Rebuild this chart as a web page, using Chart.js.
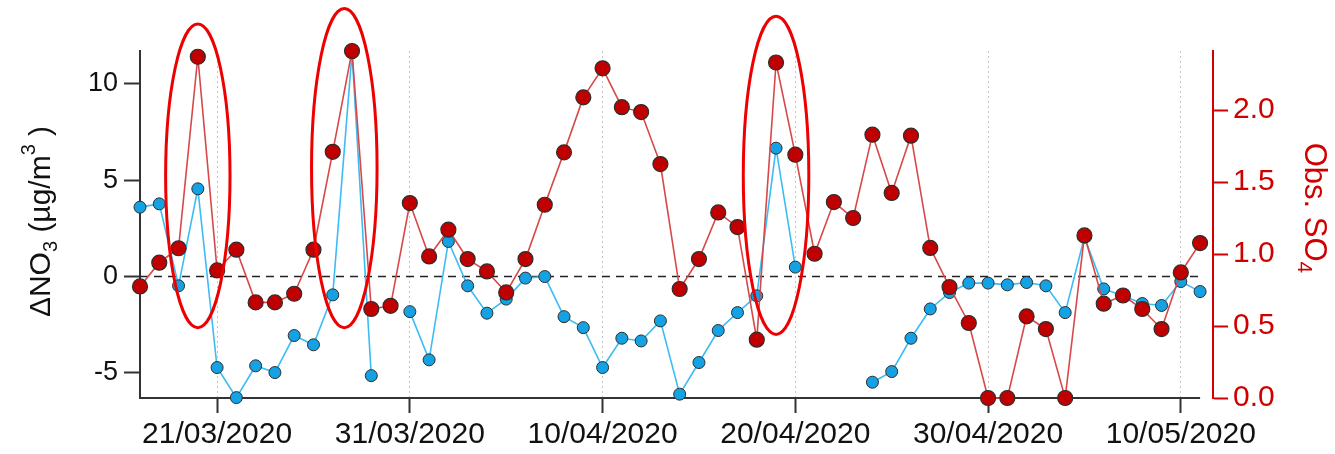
<!DOCTYPE html>
<html>
<head>
<meta charset="utf-8">
<script src="https://cdn.jsdelivr.net/npm/chart.js@4.4.1/dist/chart.umd.min.js"></script>
<style>
  html, body { margin: 0; padding: 0; background: #fff; }
  #chart { display: block; }
</style>
</head>
<body>
<canvas id="chart" width="1335" height="454"></canvas>
<script>
// ====== DATA ======
const dates = [
  "17/03/2020", "18/03/2020", "19/03/2020", "20/03/2020", "21/03/2020", "22/03/2020", "23/03/2020",
  "24/03/2020", "25/03/2020", "26/03/2020", "27/03/2020", "28/03/2020", "29/03/2020", "30/03/2020",
  "31/03/2020", "01/04/2020", "02/04/2020", "03/04/2020", "04/04/2020", "05/04/2020", "06/04/2020",
  "07/04/2020", "08/04/2020", "09/04/2020", "10/04/2020", "11/04/2020", "12/04/2020", "13/04/2020",
  "14/04/2020", "15/04/2020", "16/04/2020", "17/04/2020", "18/04/2020", "19/04/2020", "20/04/2020",
  "21/04/2020", "22/04/2020", "23/04/2020", "24/04/2020", "25/04/2020", "26/04/2020", "27/04/2020",
  "28/04/2020", "29/04/2020", "30/04/2020", "01/05/2020", "02/05/2020", "03/05/2020", "04/05/2020",
  "05/05/2020", "06/05/2020", "07/05/2020", "08/05/2020", "09/05/2020", "10/05/2020", "11/05/2020"
];

// ΔNO3 (µg/m3), left axis
const deltaNO3 = [
  3.6, 3.77, -0.48, 4.55, -4.72, -6.28, -4.63,
  -4.98, -3.06, -3.54, -0.95, 11.6, -5.14, null,
  -1.82, -4.32, 1.82, -0.48, -1.9, -1.17, -0.08,
  0.0, -2.08, -2.65, -4.72, -3.2, -3.34, -2.3,
  -6.1, -4.46, -2.8, -1.87, -1.0, 6.66, 0.49,
  null, null, null, -5.48, -4.93, -3.2, -1.68,
  -0.83, -0.34, -0.34, -0.43, -0.31, -0.48, -1.87,
  2.04, -0.64, -1.0, -1.4, -1.5, -0.26, -0.78
];

// Obs. SO4, right axis
const obsSO4 = [
  0.775, 0.94, 1.04, 2.37, 0.886, 1.03, 0.664,
  0.664, 0.724, 1.03, 1.71, 2.41, 0.618, 0.64,
  1.354, 0.983, 1.169, 0.965, 0.879, 0.733, 0.965,
  1.342, 1.706, 2.088, 2.29, 2.02, 1.986, 1.625,
  0.757, 0.965, 1.289, 1.187, 0.405, 2.33, 1.69,
  1.002, 1.361, 1.25, 1.829, 1.424, 1.822, 1.042,
  0.771, 0.521, 0.0, 0.0, 0.567, 0.479, 0.0,
  1.129, 0.655, 0.712, 0.618, 0.479, 0.872, 1.076
];

const tickDates = ["21/03/2020", "31/03/2020", "10/04/2020", "20/04/2020", "30/04/2020", "10/05/2020"];
const leftTicks = [-5, 0, 5, 10];
const rightTicks = [0, 0.5, 1.0, 1.5, 2.0];

// red ellipses round the peaks (day index, left-axis values)
const highlights = [
  { day: 3.0, top: 13.1, bottom: -2.65, halfDays: 1.67 },
  { day: 10.6, top: 13.9, bottom: -2.65, halfDays: 1.7 },
  { day: 33.0, top: 13.5, bottom: -3.0, halfDays: 1.7 },
];

// ====== STYLE ======
const colors = {
  blueLine: "#3cbcf4",
  bluePoint: "#14a2e4",
  redLine: "#d84848",
  redPoint: "#c00000",
  pointBorder: "#2d2d2d",
  axis: "#333333",
  red: "#d00000",
  grid: "#c4c4c4",
};

const FONT = "'Liberation Sans', Arial, sans-serif";
const toXY = (arr) => arr.map((v, i) => ({ x: i, y: v }));

// ====== PLUGINS ======
const extras = {
  id: "extras",
  beforeDatasetsDraw(chart) {
    const { ctx, scales } = chart;
    const x = scales.x, yl = scales.yLeft;
    const x0 = x.getPixelForValue(0), x1 = x.getPixelForValue(dates.length - 1);
    ctx.save();
    // dashed zero line
    ctx.strokeStyle = "#222";
    ctx.lineWidth = 1.5;
    ctx.setLineDash([8, 6]);
    const yz = yl.getPixelForValue(0);
    ctx.beginPath();
    ctx.moveTo(x0, yz);
    ctx.lineTo(x1, yz);
    ctx.stroke();
    // bottom axis line
    ctx.setLineDash([]);
    ctx.strokeStyle = colors.axis;
    ctx.lineWidth = 2;
    const yb = chart.chartArea.bottom;
    ctx.beginPath();
    ctx.moveTo(x0 - 1, yb);
    ctx.lineTo(x1, yb);
    ctx.stroke();
    ctx.restore();
  },
  afterDatasetsDraw(chart) {
    const { ctx, scales } = chart;
    const x = scales.x, yl = scales.yLeft;
    ctx.save();
    ctx.strokeStyle = "#ee0000";
    ctx.lineWidth = 3;
    highlights.forEach((h) => {
      const cx = x.getPixelForValue(h.day);
      const rx = x.getPixelForValue(h.day + h.halfDays) - cx;
      const yt = yl.getPixelForValue(h.top), ybm = yl.getPixelForValue(h.bottom);
      ctx.beginPath();
      ctx.ellipse(cx, (yt + ybm) / 2, rx, (ybm - yt) / 2, 0, 0, Math.PI * 2);
      ctx.stroke();
    });
    ctx.restore();
  },
  afterDraw(chart) {
    const { ctx, chartArea } = chart;
    const midY = (chartArea.top + chartArea.bottom) / 2;

    function drawRich(parts, size, color) {
      ctx.fillStyle = color;
      ctx.textBaseline = "middle";
      ctx.textAlign = "left";
      const small = Math.round(size * 0.68);
      let total = 0;
      parts.forEach((p) => {
        ctx.font = `${p.s ? small : size}px ${FONT}`;
        p.w = ctx.measureText(p.t).width;
        total += p.w;
      });
      let px = -total / 2;
      parts.forEach((p) => {
        ctx.font = `${p.s ? small : size}px ${FONT}`;
        const dy = p.s === "sub" ? size * 0.32 : p.s === "sup" ? -size * 0.42 : 0;
        ctx.fillText(p.t, px, dy);
        px += p.w;
      });
    }

    ctx.save();
    ctx.translate(42, midY - 3);
    ctx.rotate(-Math.PI / 2);
    drawRich(
      [{ t: "ΔNO" }, { t: "3", s: "sub" }, { t: " (µg/m" }, { t: "3", s: "sup" }, { t: " )" }],
      30, "#111"
    );
    ctx.restore();

    ctx.save();
    ctx.translate(1314, 208);
    ctx.rotate(Math.PI / 2);
    drawRich([{ t: "Obs. SO" }, { t: "4", s: "sub" }], 31, colors.red);
    ctx.restore();
  },
};

// ====== CHART ======
new Chart(document.getElementById("chart"), {
  type: "line",
  data: {
    datasets: [
      {
        label: "Obs. SO4",
        data: toXY(obsSO4),
        yAxisID: "yRight",
        borderColor: colors.redLine,
        borderWidth: 1.6,
        pointBackgroundColor: colors.redPoint,
        pointBorderColor: colors.pointBorder,
        pointBorderWidth: 1.2,
        pointRadius: 7.5,
        tension: 0,
        clip: false,
      },
      {
        label: "ΔNO3",
        data: toXY(deltaNO3),
        yAxisID: "yLeft",
        borderColor: colors.blueLine,
        borderWidth: 1.6,
        pointBackgroundColor: colors.bluePoint,
        pointBorderColor: colors.pointBorder,
        pointBorderWidth: 1,
        pointRadius: 6,
        spanGaps: false,
        tension: 0,
        clip: false,
      },
    ],
  },
  options: {
    responsive: false,
    animation: false,
    layout: { autoPadding: false, padding: { top: 51, left: 0, right: 0, bottom: 0 } },
    plugins: { legend: { display: false }, tooltip: { enabled: false } },
    scales: {
      x: {
        type: "linear",
        min: 0,
        max: dates.length - 1 + 0.67,
        afterBuildTicks: (s) => { s.ticks = tickDates.map((d) => ({ value: dates.indexOf(d) })); },
        afterFit: (s) => { s.height = 56; },
        ticks: {
          callback: (v) => dates[v],
          color: "#111",
          font: { family: FONT, size: 30 },
          padding: 4,
          maxRotation: 0,
          autoSkip: false,
        },
        grid: {
          color: colors.grid,
          lineWidth: 1,
          tickColor: colors.axis,
          tickLength: 15,
          tickWidth: 2,
        },
        border: { display: false, dash: [2, 3] },
      },
      yLeft: {
        position: "left",
        min: -6.3,
        max: 11.7,
        afterBuildTicks: (s) => { s.ticks = leftTicks.map((v) => ({ value: v })); },
        afterFit: (s) => { s.width = 140; },
        ticks: {
          color: "#111",
          font: { family: FONT, size: 27 },
          padding: 6,
        },
        grid: { drawOnChartArea: false, tickColor: colors.axis, tickLength: 16, tickWidth: 2 },
        border: { display: true, color: colors.axis, width: 2 },
      },
      yRight: {
        position: "right",
        min: 0,
        max: 2.41,
        afterBuildTicks: (s) => { s.ticks = rightTicks.map((v) => ({ value: v })); },
        afterFit: (s) => { s.width = 122; },
        ticks: {
          color: colors.red,
          callback: (v) => Number(v).toFixed(1),
          font: { family: FONT, size: 30 },
          padding: 5,
        },
        grid: { drawOnChartArea: false, tickColor: colors.red, tickLength: 15, tickWidth: 2 },
        border: { display: true, color: colors.red, width: 2 },
      },
    },
  },
  plugins: [extras],
});
</script>
</body>
</html>
